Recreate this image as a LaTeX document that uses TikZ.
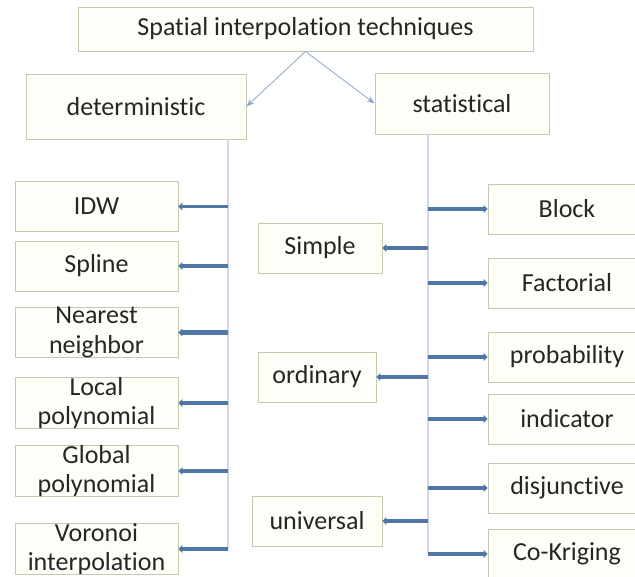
\documentclass[tikz,border=0pt]{standalone}
\usepackage{fontspec}
\setmainfont[RawFeature=-liga]{Carlito}
\usetikzlibrary{arrows.meta}

\definecolor{boxline}{RGB}{192,204,176}
\definecolor{boxfill}{RGB}{254,254,248}
\definecolor{linkblue}{RGB}{80,118,166}
\definecolor{trunkblue}{RGB}{204,218,236}
\definecolor{thinblue}{RGB}{138,166,200}

\begin{document}
\begin{tikzpicture}[x=1pt, y=-1pt,
    box/.style={draw=boxline, fill=boxfill, line width=0.9pt, inner sep=0pt,
      minimum height=50pt, align=center, text=black!85,
      font=\fontsize{26}{29.5}\selectfont},
    link/.style={draw=linkblue, line width=3.5pt, -{Triangle[length=4pt,width=8pt]}},
    trunk/.style={draw=trunkblue, line width=1.2pt},
    split/.style={draw=thinblue, line width=0.8pt, -{Stealth[length=8pt,width=6pt]}}]
  \useasboundingbox (0,0) rectangle (635,577);

  % top level
  \node[box, minimum width=455pt, minimum height=44pt] (spi) at (305.5,29) {Spatial interpolation techniques};
  \node[box, minimum width=220pt, minimum height=65pt] (det) at (136,106.5) {deterministic};
  \node[box, minimum width=174pt, minimum height=61pt] (sta) at (462,103.5) {statistical};
  \draw[split] (spi.south) -- (det.east);
  \draw[split] (spi.south) -- (sta.west);

  % trunks
  \coordinate (ltop) at (228,139);
  \coordinate (lend) at (228,549);
  \coordinate (rtop) at (428,134);
  \coordinate (rend) at (428,554);
  \draw[trunk] (ltop) -- (lend);
  \draw[trunk] (rtop) -- (rend);

  % deterministic methods
  \foreach \name/\y/\txt/\lw in {idw/206.5/IDW/3.5, spl/266/Spline/3.5,
      nn/332.5/{Nearest\\neighbor}/5.5, lp/403/{Local\\polynomial}/3.5,
      gp/471/{Global\\polynomial}/3.5, vor/549/{Voronoi\\interpolation}/3.5} {
    \node[box, minimum width=163pt] (\name) at (96.5,\y) {\txt};
    \draw[link, line width=\lw pt] (ltop |- \name.east) -- (\name.east);
  }

  % kriging types
  \node[box, minimum width=124pt] (sim) at (320,248) {Simple};
  \node[box, minimum width=118pt] (ord) at (317,377) {ordinary};
  \node[box, minimum width=130pt] (uni) at (317,521) {universal};
  \foreach \name in {sim, ord, uni}
    \draw[link] (rtop |- \name.east) -- (\name.east);

  % statistical methods
  \foreach \name/\y/\txt/\lw in {blk/209/Block/3.5, fac/283/Factorial/3.5,
      pro/357/probability/3.5, ind/419/indicator/3.5,
      dis/488/disjunctive/3.5, cok/554/Co-Kriging/4.5} {
    \node[box, minimum width=158pt] (\name) at (567,\y) {\txt};
    \draw[link, line width=\lw pt] (rtop |- \name.west) -- (\name.west);
  }
\end{tikzpicture}
\end{document}
